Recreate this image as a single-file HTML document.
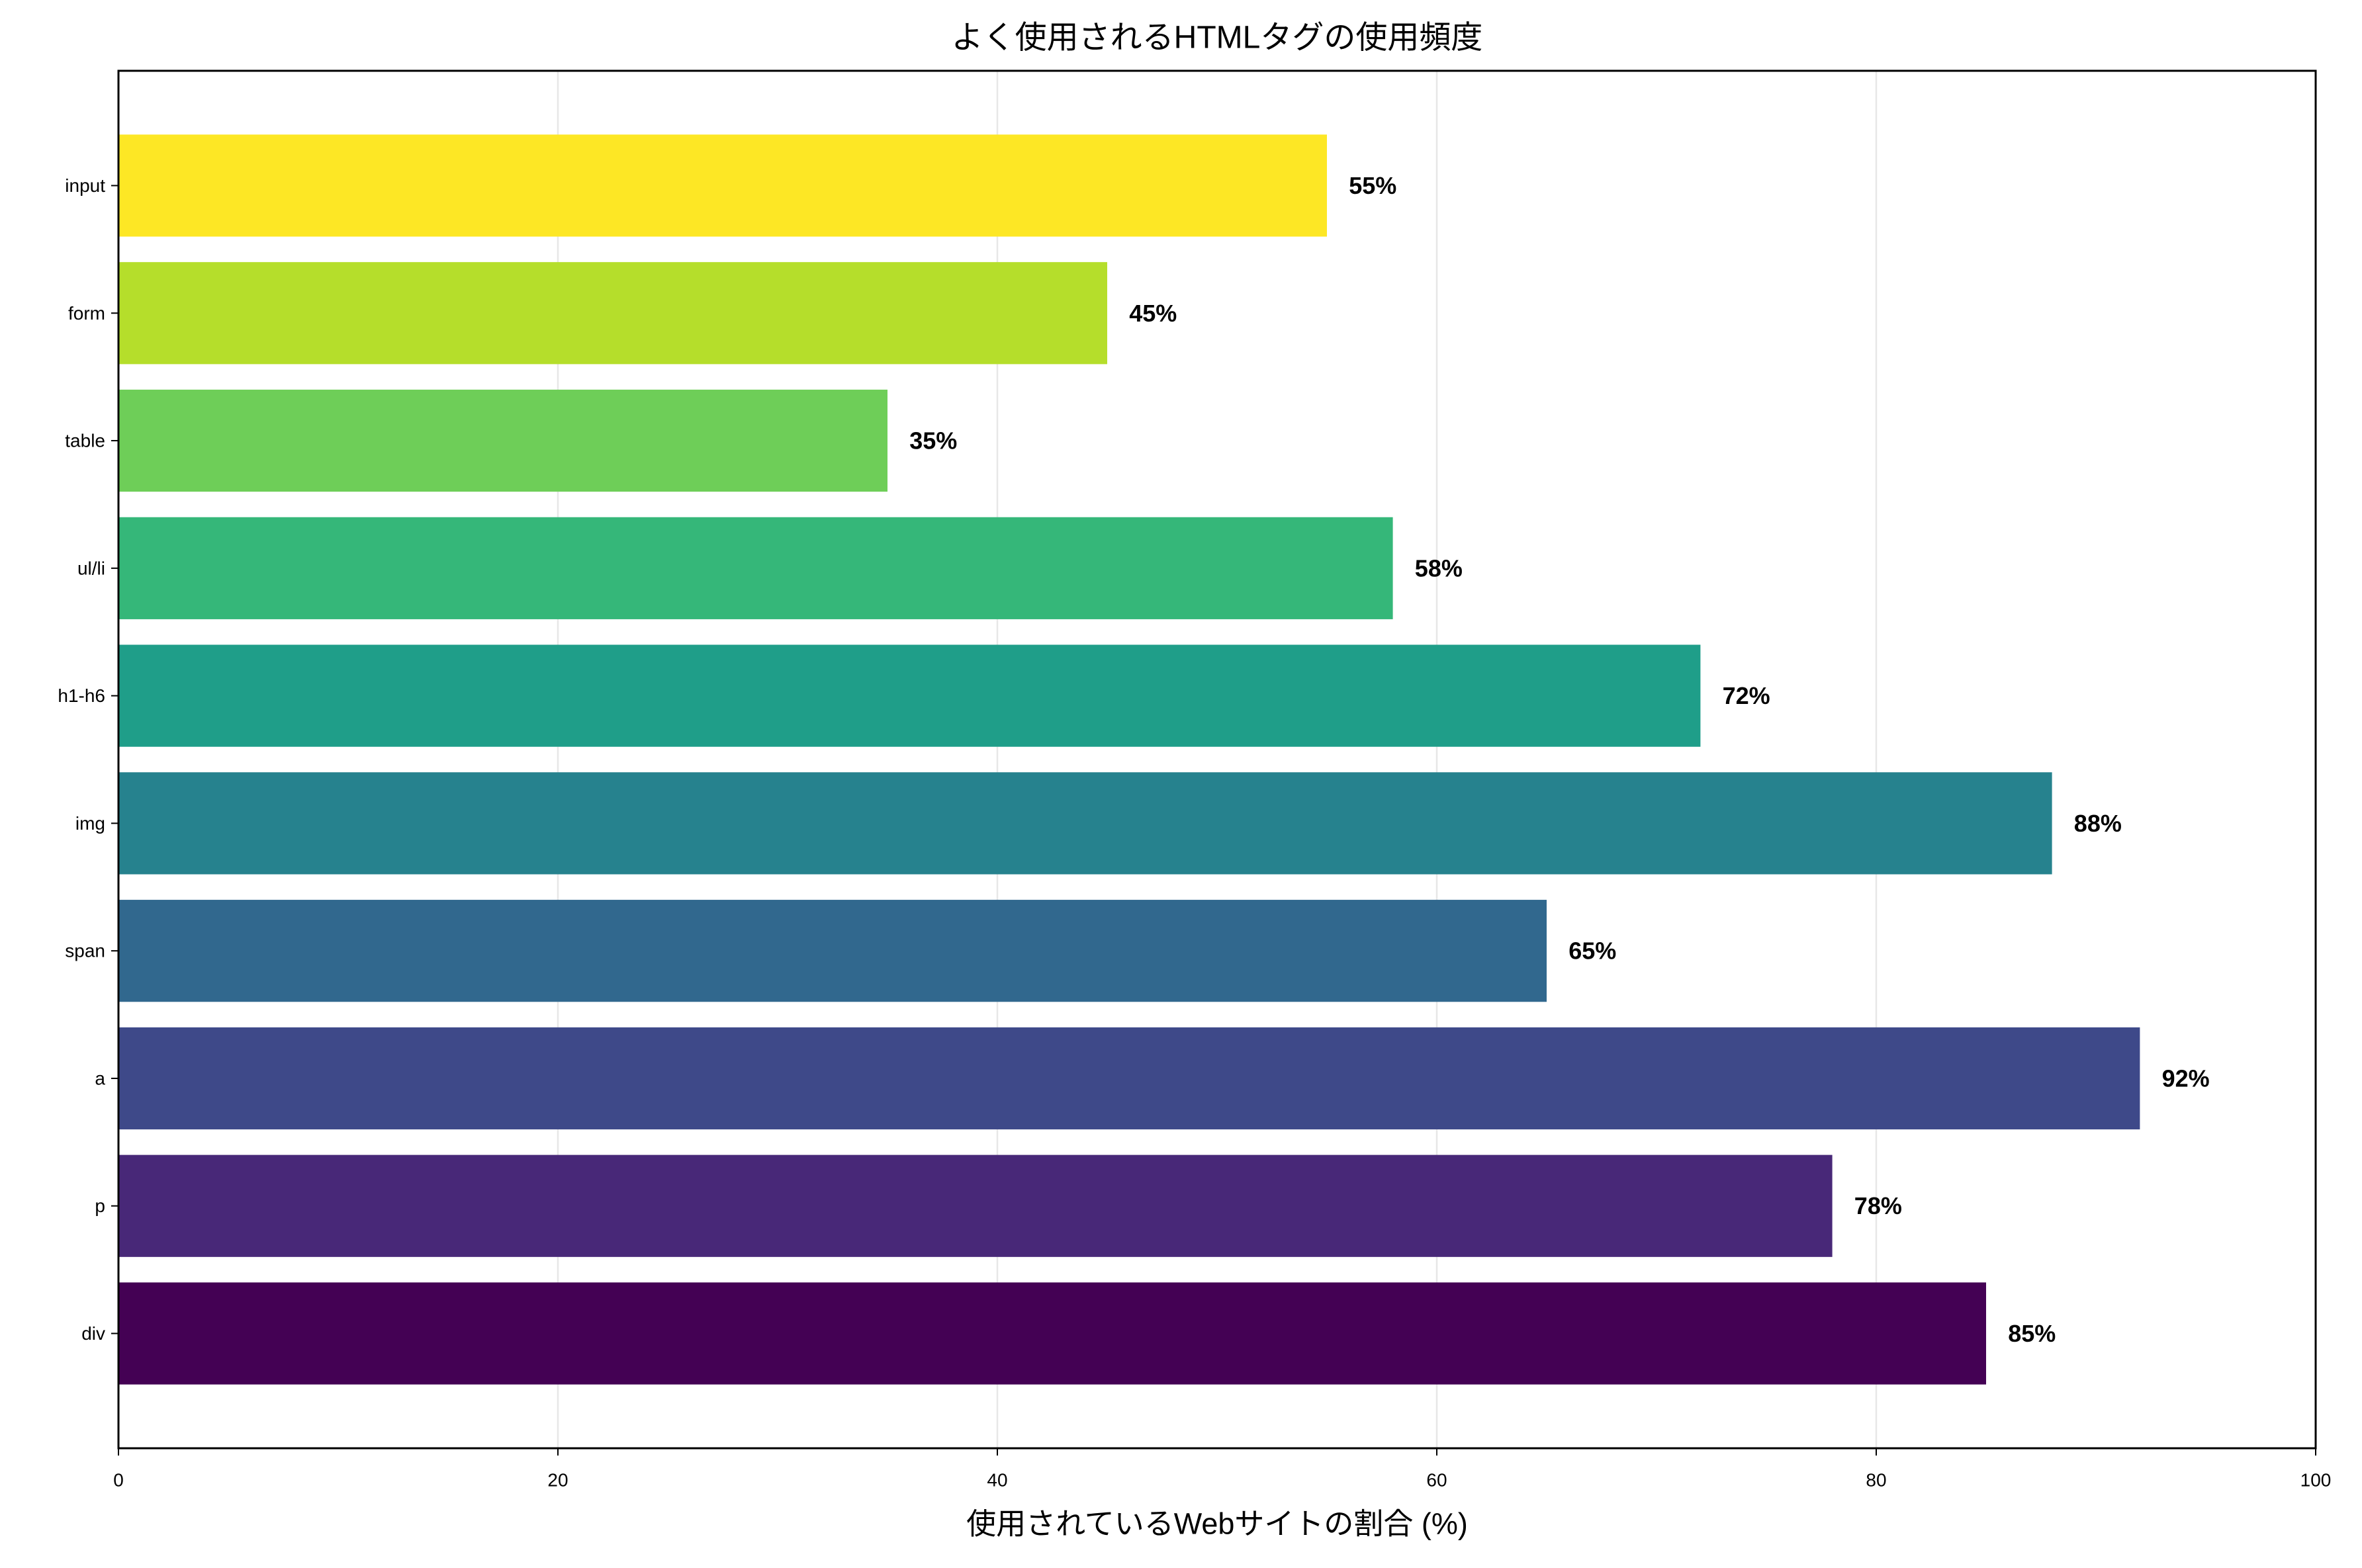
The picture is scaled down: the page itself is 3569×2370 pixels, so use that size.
<!DOCTYPE html>
<html><head><meta charset="utf-8"><style>
body{margin:0;background:#fff}
svg text{font-family:"Liberation Sans","Noto Sans CJK JP",sans-serif}
</style></head><body>
<svg id="chart" width="3569" height="2365" xmlns="http://www.w3.org/2000/svg">
<rect width="3569" height="2365" fill="#fff"/>
<g id="grid"></g><g id="bars"></g><g id="axes"></g>
</svg>
<script>
const categories=["div","p","a","span","img","h1-h6","ul/li","table","form","input"];
const values=[85,78,92,65,88,72,58,35,45,55];
const colors=["#440154","#482878","#3e4989","#31688e","#26828e","#1f9e89","#35b779","#6ece58","#b5de2b","#fde725"];
const xTicks=[0,20,40,60,80,100];
const L=179,R=3499,T=107,B=2189;
const x=v=>L+(v/100)*(R-L);
const yMin=-0.9,yMax=9.9;
const y=i=>B-(i-yMin)/(yMax-yMin)*(B-T);
const bandH=(B-T)/(yMax-yMin);
const NS="http://www.w3.org/2000/svg";
function mk(tag,attrs,parent,text){const e=document.createElementNS(NS,tag);for(const k in attrs)e.setAttribute(k,attrs[k]);if(text!==undefined)e.textContent=text;parent.appendChild(e);return e;}
const grid=document.getElementById('grid'),bars=document.getElementById('bars'),axes=document.getElementById('axes');
xTicks.forEach(t=>{const g=mk('line',{x1:x(t),x2:x(t),y1:T,y2:B,stroke:'#b0b0b0','stroke-opacity':0.3,'stroke-width':2.5},grid);

});
categories.forEach((c,i)=>{
 const r=mk('rect',{x:x(0),y:y(i)-0.4*bandH,width:x(values[i])-x(0),height:0.8*bandH,fill:colors[i]},bars);
 
 
 const t=mk('text',{x:x(values[i]+1),y:y(i),'font-size':36,'font-weight':'bold','dominant-baseline':'central'},bars,values[i]+'%');
 
 
 const tk=mk('line',{x1:L-11,x2:L,y1:y(i),y2:y(i),stroke:'#000','stroke-width':2},axes);
 
 
 const tl=mk('text',{x:L-20,y:y(i),'font-size':28,'text-anchor':'end','dominant-baseline':'central'},axes,c);
 
 
});
xTicks.forEach(t=>{
 const tk=mk('line',{x1:x(t),x2:x(t),y1:B,y2:B+11,stroke:'#000','stroke-width':2},axes);
 
 
 const tl=mk('text',{x:x(t),y:B+48,'font-size':28,'text-anchor':'middle','dominant-baseline':'central'},axes,t);
 
 
});
const fr=mk('rect',{x:L,y:T,width:R-L,height:B-T,fill:'none',stroke:'#000','stroke-width':3},axes);


const ti=mk('text',{x:(L+R)/2,y:57,'font-size':48,'text-anchor':'middle','dominant-baseline':'central'},axes,'よく使用されるHTMLタグの使用頻度');


const xl=mk('text',{x:(L+R)/2,y:2303,'font-size':45,'text-anchor':'middle','dominant-baseline':'central'},axes,'使用されているWebサイトの割合 (%)');


</script>
</body></html>
